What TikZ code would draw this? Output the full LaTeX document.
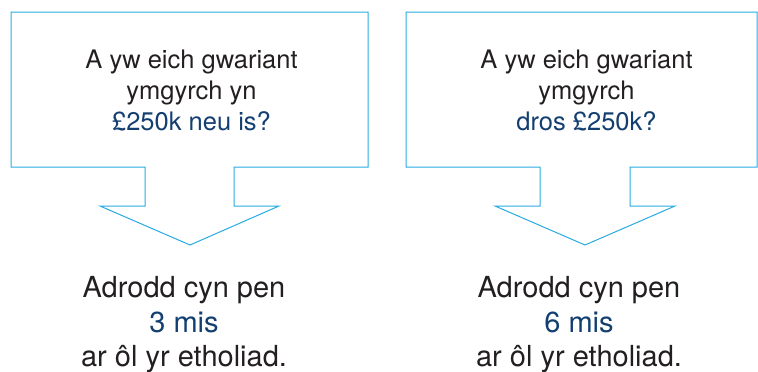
\documentclass[tikz,border=0pt]{standalone}
\usepackage{fontspec}
\setmainfont{TeX Gyre Heros}

\definecolor{calloutblue}{RGB}{41,171,226}
\definecolor{textnavy}{RGB}{18,62,112}
\definecolor{textdark}{RGB}{35,31,32}

\tikzstyle{callout}=[draw=calloutblue, line width=1pt, line join=miter]
\tikzstyle{question}=[align=center, inner sep=0pt, text=textdark, font=\fontsize{25.5}{31}\selectfont]
\tikzstyle{answer}=[align=center, inner sep=0pt, text=textdark, font=\fontsize{29}{34.5}\selectfont]

\begin{document}
\begin{tikzpicture}[x=1pt,y=-1pt]
\useasboundingbox (0,0) rectangle (758,372);

% left callout
\draw [callout] (11,12) -- (368,12) -- (368,167) -- (234,167) -- (234,206) -- (279,206)
  -- (190,245) -- (100,206) -- (145,206) -- (145,167) -- (11,167) -- cycle;
\node [question] (qlow) at (191.5,90) {A yw eich gwariant\\ ymgyrch yn\\ \textcolor{textnavy}{£250k neu is?}};
\node [answer] (alow) at (184,325) {Adrodd cyn pen\\ \textcolor{textnavy}{3 mis}\\ ar ôl yr etholiad.};

% right callout
\draw [callout] (406,12) -- (757,12) -- (757,167) -- (630,167) -- (630,206) -- (675,206)
  -- (585,245) -- (495,206) -- (540,206) -- (540,167) -- (406,167) -- cycle;
\node [question] (qhigh) at (586.5,90) {A yw eich gwariant\\ ymgyrch\\ \textcolor{textnavy}{dros £250k?}};
\node [answer] (ahigh) at (579,325) {Adrodd cyn pen\\ \textcolor{textnavy}{6 mis}\\ ar ôl yr etholiad.};
\end{tikzpicture}
\end{document}
